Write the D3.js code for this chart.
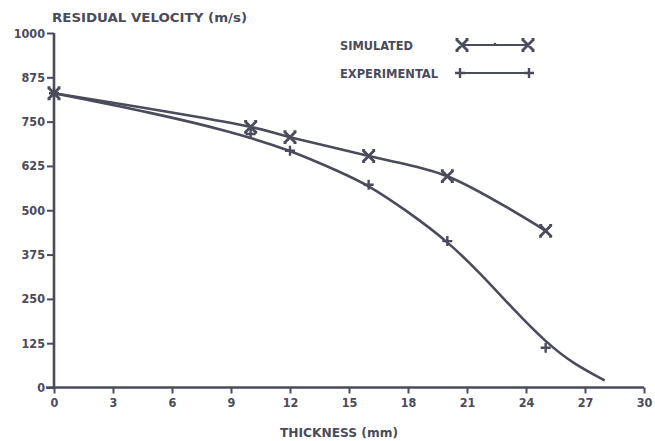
<!DOCTYPE html>
<html><head><meta charset="utf-8">
<script src="https://cdn.jsdelivr.net/npm/d3@7"></script>
<style>
html,body{margin:0;padding:0;background:#fff;}
svg text{font-family:"DejaVu Sans Condensed","DejaVu Sans",sans-serif;font-weight:bold;fill:#4a4b5b;}
</style></head>
<body>
<script>
// ---- data ----
const xTicks = [0,3,6,9,12,15,18,21,24,27,30];
const yTicks = [0,125,250,375,500,625,750,875,1000];
const yTickLabels = ["0","125","250","375","500","625","750","875","1000"];
const simThickness = [0,10,12,16,20,25];
const simVelocity  = [830,735,706,653,596,442];
const expThickness = [0,10,12,16,20,25];
const expVelocity  = [830,715,668,572,413,112];
// experimental fitted curve
const fitThickness = [0,5,9,12,14.5,16,18,20,21.7,23.4,25,26.4,28];
const fitVelocity  = [830,775,722,670,609,571,496,413,321,218,128,67,20];
const seriesNames = ["SIMULATED","EXPERIMENTAL"];

const W=655,H=441, ink="#4a4b5b";
const svg=d3.select("body").append("svg").attr("width",W).attr("height",H);
const x=d3.scaleLinear().domain([0,30]).range([54,644]);
const y=d3.scaleLinear().domain([0,1000]).range([387.5,33]);

// axes
const yAxis=svg.append("g").attr("transform","translate(54,0)")
  .call(d3.axisLeft(y).tickValues(yTicks).tickFormat((d,i)=>yTickLabels[i]).tickSize(7).tickPadding(2));
const xAxis=svg.append("g").attr("transform","translate(0,387.5)")
  .call(d3.axisBottom(x).tickValues(xTicks).tickFormat(d3.format("d")).tickSize(6).tickPadding(5));
[yAxis,xAxis].forEach(g=>{
  g.select(".domain").attr("stroke",ink).attr("stroke-width",2.6);
  g.selectAll(".tick line").attr("stroke",ink).attr("stroke-width",2);
  g.selectAll(".tick text").attr("fill",ink).style("font-size","12.5px");
});
yAxis.select(".domain").attr("d","M0,"+y(0)+"V"+y(1000));
xAxis.select(".domain").attr("d","M"+(x(0)-8)+",0H"+x(30));

// titles
svg.append("text").attr("x",52).attr("y",22).attr("textLength",195).attr("lengthAdjust","spacingAndGlyphs")
  .style("font-size","13px").text("RESIDUAL VELOCITY (m/s)");
svg.append("text").attr("x",280).attr("y",437).attr("textLength",118).attr("lengthAdjust","spacingAndGlyphs")
  .style("font-size","13px").text("THICKNESS (mm)");

// lines
const lineGen=d3.line().x(d=>x(d[0])).y(d=>y(d[1]));
const simPts=simThickness.map((t,i)=>[t,simVelocity[i]]);
const expPts=expThickness.map((t,i)=>[t,expVelocity[i]]);
const fitPts=fitThickness.map((t,i)=>[t,fitVelocity[i]]);
svg.append("path").attr("d",lineGen.curve(d3.curveBasis)(fitPts))
  .attr("fill","none").attr("stroke",ink).attr("stroke-width",2.6);
svg.append("path").attr("d",lineGen.curve(d3.curveCatmullRom.alpha(0.5))(simPts))
  .attr("fill","none").attr("stroke",ink).attr("stroke-width",2.6);

function xMark(g,cx,cy){
  const s=5.5, c=3;
  g.append("path").attr("d",`M${cx-s},${cy-s}L${cx+s},${cy+s}M${cx-s},${cy+s}L${cx+s},${cy-s}M${cx-s-1},${cy-s}h${c}M${cx+s+1},${cy-s}h${-c}M${cx-s-1},${cy+s}h${c}M${cx+s+1},${cy+s}h${-c}`)
   .attr("stroke",ink).attr("stroke-width",2.8).attr("fill","none");
}
function plusMark(g,cx,cy){
  const s=5;
  g.append("path").attr("d",`M${cx-s},${cy}H${cx+s}M${cx},${cy-s}V${cy+s}`)
   .attr("stroke",ink).attr("stroke-width",2.4).attr("fill","none");
}
const mg=svg.append("g");
expPts.forEach(p=>plusMark(mg,x(p[0]),y(p[1])));
simPts.forEach(p=>xMark(mg,x(p[0]),y(p[1])));

// legend
svg.append("text").attr("x",340).attr("y",50).attr("textLength",73).attr("lengthAdjust","spacingAndGlyphs")
  .style("font-size","12.5px").text(seriesNames[0]);
svg.append("text").attr("x",340).attr("y",78).attr("textLength",98).attr("lengthAdjust","spacingAndGlyphs")
  .style("font-size","12.5px").text(seriesNames[1]);
const lg=svg.append("g");
lg.append("line").attr("x1",462).attr("x2",528).attr("y1",45).attr("y2",45).attr("stroke",ink).attr("stroke-width",2);
lg.append("circle").attr("cx",495).attr("cy",44).attr("r",1.3).attr("fill",ink);
xMark(lg,462,45); xMark(lg,528,45);
lg.append("line").attr("x1",460).attr("x2",529).attr("y1",73).attr("y2",73).attr("stroke",ink).attr("stroke-width",2);
plusMark(lg,460,73); plusMark(lg,529,73);
</script>
</body></html>
